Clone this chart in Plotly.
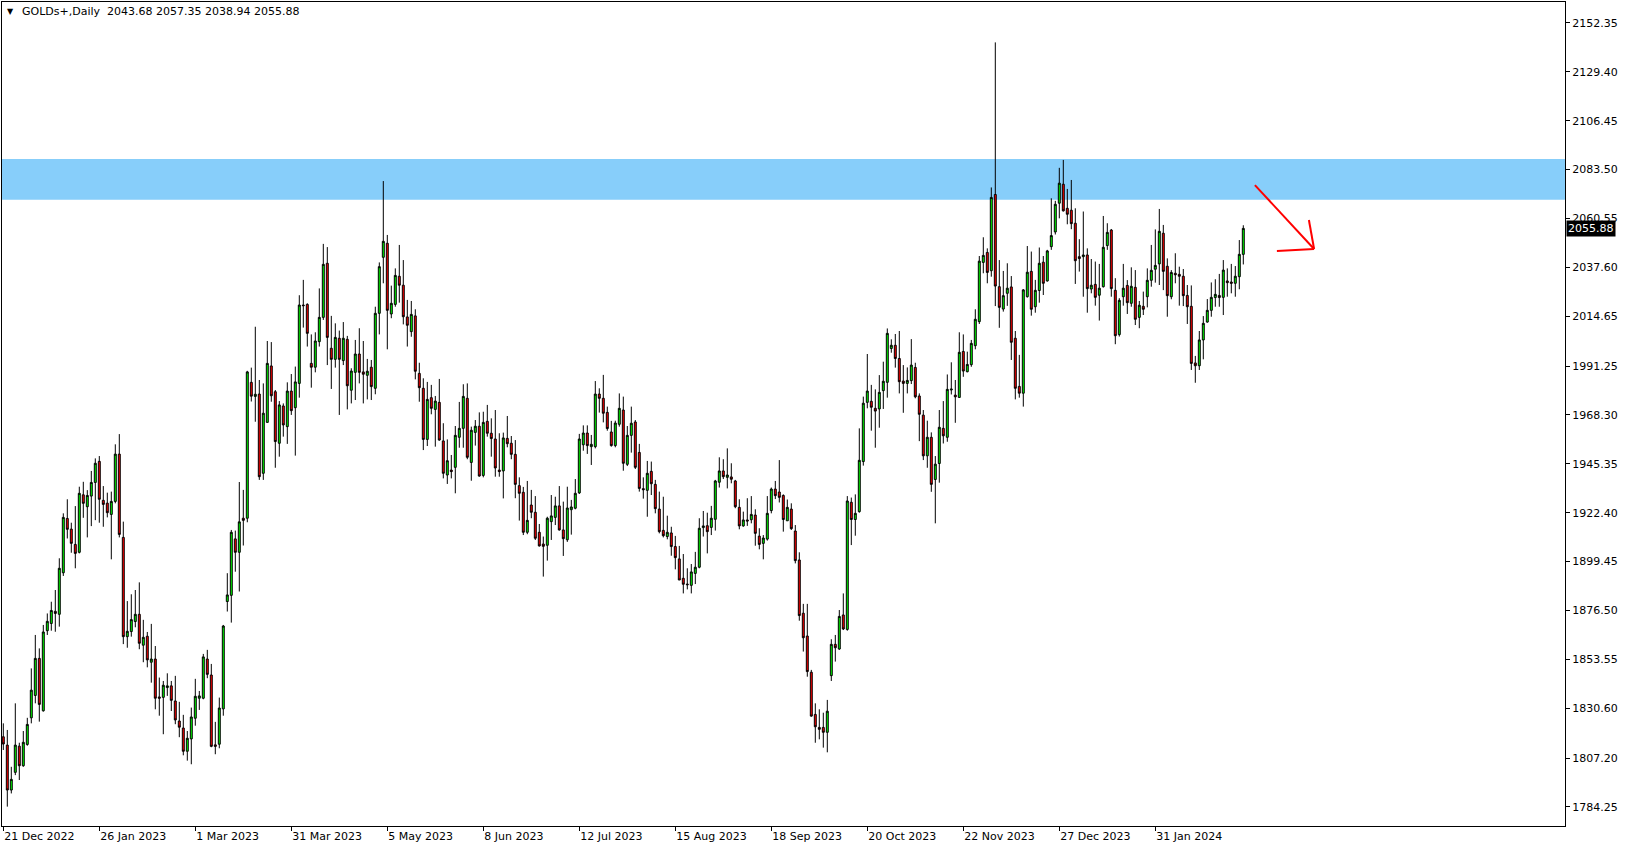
import plotly.graph_objects as go

# ---------------- data ----------------
opens = [
1817.2,1813.3,1792.2,1800.5,1812.8,1803.6,1813.6,1826.1,1836.6,1854.0,
1829.4,1867.0,1870.4,1876.1,1874.7,1894.2,1919.7,1914.7,1907.5,1903.8,
1930.8,1925.2,1930.2,1936.6,1946.5,1928.2,1926.9,1921.6,1927.7,1949.9,
1910.8,1864.2,1866.6,1871.3,1874.7,1860.2,1864.4,1852.2,1853.7,1835.9,
1835.7,1840.3,1841.1,1834.0,1824.6,1821.3,1810.4,1816.2,1825.9,1835.3,
1835.3,1853.7,1846.2,1813.4,1813.7,1830.3,1880.7,1883.6,1910.1,1903.8,
1919.8,1919.8,1983.6,1977.0,1978.1,1940.9,1964.8,1991.3,1979.2,1955.0,
1972.5,1962.8,1979.5,1971.7,1983.1,2019.9,2020.2,1992.5,1990.7,2002.7,
2014.1,2039.5,1999.6,1994.4,2004.3,1993.8,2003.8,1979.9,1988.3,1996.9,
1988.5,1986.9,1990.7,1980.8,2016.0,2042.3,2048.9,2015.7,2020.2,2033.4,
2029.2,2014.3,2007.4,2014.8,1987.8,1980.8,1956.8,1976.4,1970.9,1974.2,
1956.1,1940.1,1942.4,1943.7,1957.8,1962.0,1976.1,1946.0,1960.1,1963.0,
1939.9,1965.3,1959.7,1957.0,1942.4,1942.0,1957.3,1955.0,1949.8,1935.1,
1932.0,1913.2,1926.0,1922.6,1913.2,1907.7,1907.1,1918.2,1920.2,1925.6,
1914.3,1909.7,1923.8,1924.5,1931.7,1954.3,1959.8,1953.4,1953.4,1978.1,
1976.1,1969.5,1960.3,1953.9,1963.9,1970.6,1945.1,1958.7,1965.0,1950.7,
1933.7,1932.9,1941.8,1935.7,1924.1,1914.1,1911.2,1912.9,1906.5,1900.7,
1891.6,1888.9,1888.3,1893.9,1896.8,1915.4,1916.3,1915.5,1919.3,1936.7,
1942.0,1939.0,1939.2,1937.3,1924.9,1916.2,1919.0,1919.1,1921.3,1911.4,
1908.0,1910.0,1923.4,1933.5,1932.1,1930.5,1918.6,1924.1,1913.8,1900.2,
1875.2,1864.5,1847.5,1827.7,1821.6,1821.6,1819.3,1845.9,1860.6,1858.4,
1874.4,1867.6,1927.3,1919.2,1922.9,1946.4,1974.2,1974.7,1971.4,1971.1,
1979.7,1983.6,1999.5,2001.0,1994.8,1984.2,1983.1,1984.4,1990.6,1977.2,
1968.2,1949.1,1957.8,1938.0,1945.5,1962.0,1957.8,1980.0,1977.6,1976.5,
1998.1,1988.6,1991.9,2000.8,2012.1,2039.9,2044.6,2036.0,2071.8,2028.5,
2018.0,2025.4,2028.4,2004.3,1981.7,1978.5,2023.8,2035.7,2019.1,2026.7,
2040.0,2031.2,2047.3,2054.2,2067.7,2076.6,2065.3,2064.4,2058.3,2042.6,
2042.6,2043.4,2027.4,2029.6,2024.5,2028.5,2047.8,2055.1,2026.8,2006.0,
2023.8,2029.1,2020.7,2028.2,2014.1,2019.3,2023.8,2031.5,2036.7,2039.2,
2053.6,2038.1,2023.8,2034.8,2034.3,2033.4,2024.4,2019.3,1992.7,1991.4,
2003.5,2011.9,2017.4,2023.4,2024.4,2023.5,2031.2,2030.7,2030.1,2033.2,
2043.68]

highs = [
1823.5,1820.4,1803.1,1832.9,1814.4,1819.9,1826.1,1849.3,1865.0,1858.7,
1869.7,1875.1,1880.6,1886.1,1901.0,1922.1,1928.7,1917.7,1925.5,1934.6,
1936.9,1933.0,1942.0,1947.9,1949.0,1934.9,1931.8,1932.3,1954.5,1959.3,
1918.2,1880.9,1884.1,1886.1,1889.7,1872.1,1866.4,1870.2,1859.8,1845.0,
1843.4,1847.0,1843.4,1845.8,1833.6,1827.5,1819.9,1830.9,1844.4,1838.7,
1856.1,1858.0,1851.4,1824.2,1835.6,1869.7,1894.0,1914.3,1914.0,1936.8,
1933.1,1989.0,1990.5,2009.7,1984.7,1983.1,2003.0,2002.5,1980.0,1974.8,
1973.7,1983.6,1987.5,1991.0,2024.5,2031.7,2020.7,2006.1,2007.1,2027.7,
2048.6,2047.1,2014.8,2011.3,2007.9,2011.9,2005.4,1990.2,2003.5,2009.0,
2003.0,1994.6,1994.1,2019.1,2039.9,2078.1,2052.8,2029.0,2037.1,2048.1,
2041.0,2022.3,2021.8,2017.9,1992.8,1985.5,1983.8,1982.4,1977.2,1985.2,
1964.4,1956.8,1949.5,1963.1,1974.4,1982.7,1983.1,1962.8,1965.9,1969.5,
1969.8,1973.0,1966.7,1970.6,1959.7,1960.0,1967.8,1958.4,1956.5,1939.0,
1934.5,1937.3,1933.1,1930.2,1917.1,1911.2,1920.5,1930.7,1929.9,1934.9,
1927.6,1934.6,1928.4,1938.2,1959.4,1963.4,1963.4,1958.9,1984.2,1980.8,
1987.1,1972.2,1965.5,1965.6,1978.4,1976.9,1963.1,1972.2,1965.9,1954.7,
1939.0,1946.7,1946.4,1937.8,1932.3,1929.9,1921.0,1915.8,1911.5,1906.8,
1903.0,1896.3,1898.3,1904.0,1919.8,1923.2,1922.4,1925.6,1937.8,1948.4,
1947.5,1952.6,1945.6,1937.8,1928.7,1922.9,1929.2,1930.2,1924.0,1915.1,
1911.9,1930.2,1934.2,1937.3,1947.1,1931.0,1928.6,1926.8,1916.6,1903.8,
1879.6,1879.6,1848.6,1832.9,1830.1,1828.5,1834.5,1863.0,1865.0,1876.7,
1884.5,1930.2,1929.5,1931.0,1962.0,1976.9,1996.9,1982.4,1980.3,1987.0,
1993.3,2008.9,2003.8,2006.3,2007.7,1991.7,1990.6,2003.9,1992.8,1978.4,
1970.6,1965.6,1960.1,1949.0,1970.6,1974.8,1987.3,1993.0,1984.7,2007.1,
2006.1,1998.0,2003.5,2017.9,2042.9,2051.7,2046.5,2075.1,2143.2,2041.0,
2035.9,2039.5,2033.5,2007.7,1996.5,2027.4,2047.6,2045.0,2031.7,2046.9,
2042.9,2045.8,2070.0,2068.8,2084.3,2088.0,2074.4,2078.6,2065.3,2050.8,
2063.8,2046.5,2041.5,2040.3,2039.2,2061.7,2058.3,2055.6,2032.5,2023.1,
2039.2,2031.6,2037.6,2036.3,2021.8,2026.2,2037.1,2048.1,2055.4,2065.0,
2057.5,2041.8,2036.3,2044.2,2037.9,2036.8,2029.3,2029.1,1996.0,2007.7,
2014.7,2022.7,2030.5,2032.0,2034.5,2041.0,2037.1,2039.2,2038.2,2050.4,
2057.35]

lows = [
1811.0,1784.4,1790.6,1799.2,1796.9,1803.1,1813.0,1823.5,1832.9,1824.3,
1829.0,1865.0,1867.0,1866.5,1868.9,1892.7,1910.3,1903.6,1896.3,1903.3,
1920.0,1910.8,1916.1,1918.9,1917.7,1915.8,1920.2,1900.5,1926.8,1910.8,
1860.7,1859.0,1864.2,1868.6,1858.3,1852.2,1849.8,1842.6,1830.1,1827.1,
1818.4,1836.4,1829.3,1823.1,1817.0,1808.5,1806.0,1804.3,1822.4,1829.8,
1834.8,1844.7,1812.3,1809.0,1811.8,1827.1,1876.0,1870.8,1894.7,1885.4,
1907.0,1917.9,1974.6,1965.1,1937.8,1937.8,1964.8,1974.5,1943.5,1948.7,
1958.1,1954.7,1968.3,1949.2,1976.4,2009.3,2000.4,1981.1,1988.3,2000.4,
2012.9,1991.7,1980.5,1990.5,1968.3,1991.7,1970.9,1973.7,1975.3,1983.1,
1973.7,1975.6,1975.3,1978.0,2006.1,2030.1,1999.1,2013.7,2019.1,2021.0,
2010.8,2000.4,2005.0,1985.0,1974.5,1951.8,1953.7,1968.6,1953.4,1956.2,
1938.5,1935.9,1938.5,1931.5,1952.9,1952.9,1947.5,1937.4,1953.9,1939.3,
1939.0,1958.1,1948.7,1939.3,1939.3,1929.1,1953.1,1947.5,1929.2,1918.7,
1911.9,1912.3,1919.8,1909.6,1906.5,1892.4,1899.9,1909.6,1916.6,1914.0,
1902.1,1908.7,1912.1,1924.0,1931.2,1951.5,1950.0,1944.8,1952.6,1969.4,
1964.8,1960.9,1953.4,1953.1,1962.8,1942.1,1944.3,1950.6,1942.9,1932.3,
1929.0,1920.5,1930.7,1922.1,1912.7,1910.8,1909.9,1902.2,1895.8,1890.8,
1884.5,1886.4,1884.5,1888.9,1896.3,1911.2,1903.3,1911.9,1914.0,1934.2,
1938.2,1933.8,1936.2,1924.5,1914.6,1915.8,1916.2,1917.4,1906.9,1905.2,
1900.5,1909.3,1922.1,1928.8,1927.2,1913.5,1918.6,1914.3,1898.6,1871.7,
1857.2,1845.4,1826.6,1814.4,1816.0,1812.1,1809.9,1843.4,1852.5,1858.0,
1867.3,1867.0,1907.2,1911.6,1922.4,1944.5,1971.4,1960.9,1952.9,1962.3,
1971.1,1976.4,1997.5,1990.5,1978.4,1969.3,1978.4,1982.8,1976.1,1956.0,
1947.1,1943.5,1932.2,1917.4,1936.5,1954.9,1955.7,1977.9,1964.6,1976.5,
1986.2,1988.3,1990.9,1999.1,2011.0,2034.8,2030.1,2033.2,2019.4,2009.2,
2016.8,2019.5,1994.1,1975.6,1976.4,1972.2,2023.4,2014.9,2016.3,2021.0,
2024.6,2030.9,2045.8,2053.0,2060.6,2063.8,2057.8,2055.5,2029.8,2035.6,
2023.8,2016.3,2025.4,2019.6,2012.6,2028.1,2045.8,2023.8,2001.5,2005.1,
2019.6,2015.7,2019.1,2010.5,2009.0,2015.2,2018.8,2028.5,2030.4,2029.3,
2026.9,2014.4,2022.6,2030.1,2019.6,2019.4,2011.0,1989.4,1983.4,1989.4,
1994.4,2011.6,2014.4,2019.1,2019.1,2015.2,2023.8,2025.4,2023.8,2027.3,
2038.94]

closes = [
1813.8,1792.2,1797.2,1813.3,1803.6,1814.6,1823.0,1839.1,1854.0,1832.4,
1866.4,1871.4,1876.5,1875.1,1896.3,1920.2,1914.6,1908.0,1903.3,1931.5,
1926.8,1930.5,1936.6,1945.6,1928.7,1926.3,1922.4,1927.7,1949.9,1912.2,
1864.2,1866.7,1872.2,1874.7,1861.1,1863.9,1853.3,1853.7,1835.3,1835.3,
1841.4,1841.1,1834.3,1825.1,1821.7,1810.4,1816.5,1826.5,1836.2,1836.4,
1854.7,1846.5,1812.7,1812.7,1830.7,1869.2,1883.8,1913.2,1903.8,1918.1,
1918.8,1988.5,1977.1,1978.0,1939.3,1969.1,1992.5,1977.3,1955.8,1973.0,
1963.6,1979.5,1970.3,1983.8,2019.9,2019.6,2006.6,1990.7,2003.0,2014.1,
2039.0,2004.7,1994.4,2004.7,1994.4,2004.3,1982.0,1988.9,1996.9,1988.3,
1987.4,1988.8,1981.6,2016.0,2037.9,2049.8,2017.4,2020.7,2033.8,2029.2,
2014.4,2010.4,2015.5,1988.8,1981.1,1956.8,1975.6,1971.4,1974.8,1956.5,
1940.9,1946.8,1941.7,1958.7,1962.0,1977.0,1948.4,1961.1,1963.0,1939.6,
1964.8,1959.7,1957.2,1943.4,1941.7,1957.5,1954.8,1949.8,1935.7,1931.5,
1913.2,1918.8,1922.6,1910.4,1906.8,1906.6,1919.8,1920.9,1925.6,1914.3,
1910.2,1924.6,1925.1,1931.5,1957.0,1959.8,1953.9,1954.5,1978.1,1976.1,
1969.1,1961.9,1953.9,1964.5,1971.4,1945.6,1958.7,1964.4,1943.7,1933.8,
1933.2,1940.9,1936.0,1924.3,1913.5,1911.6,1913.2,1906.5,1901.3,1890.8,
1888.8,1888.6,1894.6,1896.8,1915.1,1916.2,1913.5,1919.8,1937.3,1942.0,
1939.3,1940.1,1938.1,1925.2,1916.2,1919.0,1918.5,1921.6,1912.7,1907.5,
1910.5,1922.1,1933.5,1930.4,1929.6,1919.2,1924.9,1914.9,1899.9,1874.1,
1863.7,1847.8,1826.9,1821.9,1820.7,1819.3,1829.2,1860.6,1859.0,1873.7,
1867.8,1927.9,1919.2,1922.1,1947.0,1973.8,1979.5,1971.9,1970.1,1978.9,
1984.1,2006.6,2001.0,1994.8,1983.9,1983.1,1984.5,1991.7,1976.8,1968.6,
1949.1,1957.8,1935.7,1945.2,1962.5,1958.5,1980.3,1980.4,1976.8,1997.7,
1988.9,1992.0,2001.9,2013.2,2040.5,2043.2,2035.2,2070.4,2028.8,2018.8,
2024.3,2027.8,2002.4,1980.8,1978.5,2027.0,2035.3,2017.9,2026.8,2039.5,
2030.1,2045.3,2052.5,2067.2,2077.1,2064.1,2062.5,2058.1,2040.7,2041.7,
2043.4,2027.6,2029.2,2023.5,2027.8,2047.0,2054.0,2027.6,2005.5,2022.1,
2027.8,2021.0,2028.7,2013.2,2019.8,2017.9,2031.5,2036.2,2038.5,2054.5,
2035.7,2024.3,2035.2,2034.1,2033.4,2024.3,2019.1,1992.5,1991.4,2003.5,
2011.3,2017.4,2023.5,2024.9,2023.4,2036.3,2030.4,2030.1,2033.4,2043.7,
2055.88]

bar_index = list(range(len(opens)))

date_labels = ["21 Dec 2022", "26 Jan 2023", "1 Mar 2023", "31 Mar 2023",
               "5 May 2023", "8 Jun 2023", "12 Jul 2023", "15 Aug 2023",
               "18 Sep 2023", "20 Oct 2023", "22 Nov 2023", "27 Dec 2023",
               "31 Jan 2024"]
bars_per_label = 24
date_positions = [i * bars_per_label for i in range(len(date_labels))]

price_labels = ["2152.35", "2129.40", "2106.45", "2083.50", "2060.55",
                "2037.60", "2014.65", "1991.25", "1968.30", "1945.35",
                "1922.40", "1899.45", "1876.50", "1853.55", "1830.60",
                "1807.20", "1784.25"]

zone_low, zone_high = 2069.3, 2088.4
last_price = 2055.88
header_text = "GOLDs+,Daily\u00a0\u00a02043.68 2057.35 2038.94 2055.88"

# arrow drawn on the chart (bar index, price)
arrow_tail = (312.9, 2076.2)
arrow_tip = (327.7, 2046.2)
arrow_wing_1 = (326.4, 2059.8)
arrow_wing_2 = (318.4, 2045.3)

# ---------------- figure ----------------
FONT = "DejaVu Sans"
fig = go.Figure()
fig.add_trace(go.Candlestick(
    x=bar_index, open=opens, high=highs, low=lows, close=closes,
    increasing=dict(fillcolor="#00ff00", line=dict(color="black", width=1)),
    decreasing=dict(fillcolor="#ff0000", line=dict(color="black", width=1)),
    whiskerwidth=0, showlegend=False, hoverinfo="skip"))

shapes = [
    dict(type="rect", xref="paper", yref="y", x0=0, x1=1, y0=zone_low, y1=zone_high,
         fillcolor="#87cefa", line=dict(width=0), layer="below"),
]
for a, b in [(arrow_tail, arrow_tip), (arrow_wing_1, arrow_tip), (arrow_wing_2, arrow_tip)]:
    shapes.append(dict(type="line", xref="x", yref="y", x0=a[0], y0=a[1], x1=b[0], y1=b[1],
                       line=dict(color="#ff0000", width=2)))

W, H = 1629, 850
ml, mr, mt, mb = 2, 64, 2, 24
pw, ph = W - ml - mr, H - mt - mb

annotations = [
    dict(xref="paper", yref="paper", x=(10 - ml) / pw, y=1 - (12 - mt) / ph,
         text="\u25bc", showarrow=False, xanchor="center", yanchor="middle",
         font=dict(family=FONT, size=8, color="black")),
    dict(xref="paper", yref="paper", x=(20 - ml) / pw, y=1 - (12 - mt) / ph,
         text=header_text, showarrow=False, xanchor="left", yanchor="middle",
         font=dict(family=FONT, size=11, color="black")),
    dict(xref="paper", yref="y", x=1, y=last_price, xshift=1,
         text="2055.88", showarrow=False, xanchor="left", yanchor="middle",
         bgcolor="black", borderpad=1,
         font=dict(family=FONT, size=11, color="white")),
]

fig.update_layout(
    width=W, height=H, autosize=False,
    margin=dict(l=ml, r=mr, t=mt, b=mb, pad=0, autoexpand=False),
    paper_bgcolor="white", plot_bgcolor="white",
    showlegend=False, shapes=shapes, annotations=annotations,
    xaxis=dict(range=[-0.325, 390.425], rangeslider=dict(visible=False),
               tickmode="array", tickvals=date_positions, ticktext=date_labels,
               ticks="outside", ticklen=4, tickcolor="black",
               ticklabelposition="outside right",
               showline=True, mirror=True, linecolor="black", linewidth=1,
               showgrid=False, zeroline=False,
               tickfont=dict(family=FONT, size=11, color="black")),
    yaxis=dict(side="right", range=[1775.31, 2162.16],
               tickmode="array", tickvals=[float(p) for p in price_labels],
               ticktext=price_labels,
               ticks="outside", ticklen=4, tickcolor="black",
               showline=True, mirror=True, linecolor="black", linewidth=1,
               showgrid=False, zeroline=False,
               tickfont=dict(family=FONT, size=11, color="black")),
)

fig.write_html("out.html", config={"displayModeBar": False},
               post_script="document.body.style.margin='0';document.body.style.overflow='hidden';")
